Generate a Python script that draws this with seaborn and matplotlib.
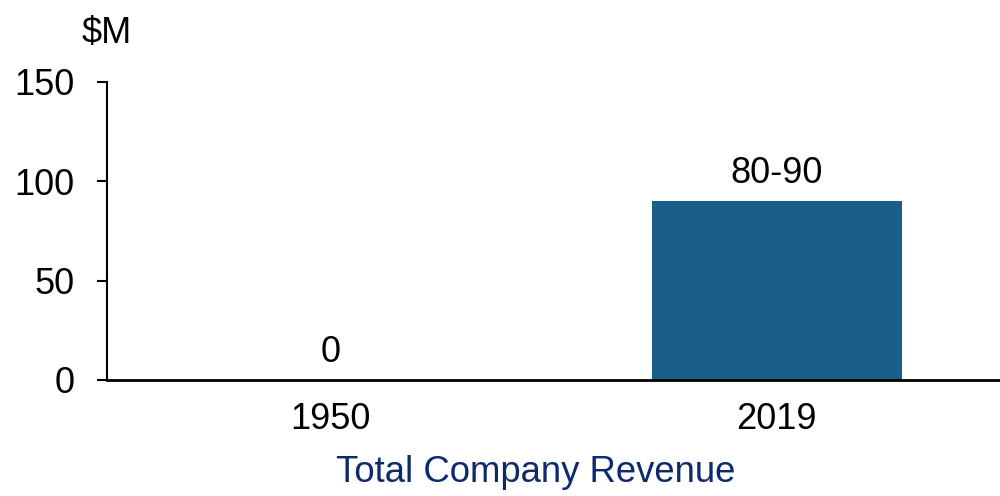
import matplotlib
matplotlib.use("Agg")
import matplotlib.pyplot as plt
import seaborn as sns
import pandas as pd

categories = ["1950", "2019"]
values = [0, 90]
bar_labels = ["0", "80-90"]
y_ticks = [0, 50, 100, 150]

sns.set_theme(style="white")
plt.rcParams['font.family'] = ['Liberation Sans', 'DejaVu Sans']

fig = plt.figure(figsize=(10, 4.96), dpi=100)
ax = fig.add_axes([0.107, 0.2339, 0.893, 0.6008])

df = pd.DataFrame({"year": categories, "value": values})
sns.barplot(data=df, x="year", y="value", color="#1a5f8a", saturation=1,
            width=0.56, linewidth=0, edgecolor="none", ax=ax)

ax.set_ylim(0, 150)
ax.set_xlim(-0.5, 1.5)
ax.set_yticks(y_ticks)
ax.set_xlabel("")
ax.set_ylabel("")
for s in ["top", "right"]:
    ax.spines[s].set_visible(False)
ax.spines["left"].set_color("black")
ax.spines["left"].set_linewidth(1.5)
ax.spines["bottom"].set_color("black")
ax.spines["bottom"].set_linewidth(2)
ax.tick_params(axis="y", length=7.2, width=1.5, color="black", direction="out",
               left=True, pad=16, labelsize=26, labelcolor="black")
ax.tick_params(axis="x", length=0, pad=16, labelsize=26, labelcolor="black")

ax.bar_label(ax.containers[0], labels=bar_labels, padding=7, fontsize=26, color="black")

fig.text(0.082, 0.913, "$M", fontsize=26, color="black", ha="left", va="baseline")
fig.text(0.536, 0.028, "Total Company Revenue", fontsize=26.3, color="#0d2a6b",
         ha="center", va="baseline")

fig.savefig("out.png", dpi=100)
